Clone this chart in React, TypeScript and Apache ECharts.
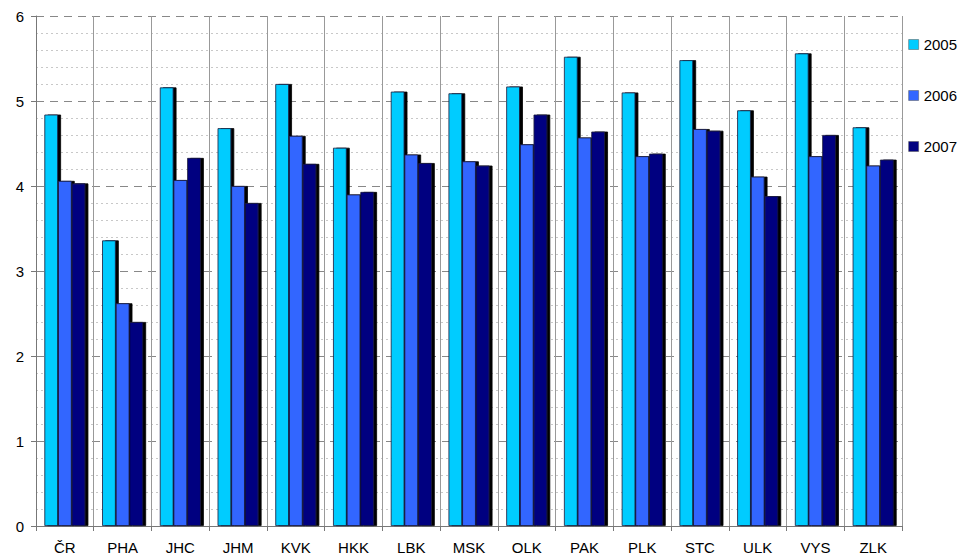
import React, { useEffect, useRef } from "react";
import * as echarts from "echarts";

const categories = ["ČR", "PHA", "JHC", "JHM", "KVK", "HKK", "LBK", "MSK", "OLK", "PAK", "PLK", "STC", "ULK", "VYS", "ZLK"];
const years = ["2005", "2006", "2007"];
const v2005 = [4.84, 3.36, 5.16, 4.68, 5.2, 4.45, 5.11, 5.09, 5.17, 5.52, 5.1, 5.48, 4.89, 5.56, 4.69];
const v2006 = [4.06, 2.62, 4.07, 4.0, 4.59, 3.9, 4.37, 4.29, 4.49, 4.57, 4.35, 4.67, 4.11, 4.35, 4.24];
const v2007 = [4.03, 2.4, 4.33, 3.8, 4.26, 3.93, 4.27, 4.24, 4.84, 4.64, 4.38, 4.65, 3.88, 4.6, 4.31];
const colors = ["#00CCFF", "#3366FF", "#000080"];

const FONT = "'Liberation Sans', Arial, sans-serif";

export default function App() {
  const ref = useRef<HTMLDivElement>(null);
  useEffect(() => {
    if (!ref.current) return;
    const chart = echarts.init(ref.current, null, { renderer: "svg" });
    const seriesData = [v2005, v2006, v2007];
    chart.setOption({
      animation: false,
      backgroundColor: "#ffffff",
      textStyle: { fontFamily: FONT },
      grid: { left: 36, right: 63, top: 16, bottom: 31 },
      legend: {
        orient: "vertical",
        right: 3,
        top: 32,
        itemWidth: 10,
        itemHeight: 10,
        itemGap: 36,
        icon: "rect",
        textStyle: { fontFamily: FONT, fontSize: 15, color: "#000" },
        itemStyle: { borderColor: "#555", borderWidth: 0.5 },
        data: years,
      },
      xAxis: {
        type: "category",
        data: categories,
        axisLine: { show: true, lineStyle: { color: "#777", width: 1 } },
        axisTick: { show: true, length: 5, lineStyle: { color: "#777" } },
        axisLabel: { fontFamily: FONT, fontSize: 15, color: "#000", margin: 14 },
        splitLine: { show: true, lineStyle: { color: "#999", width: 1 } },
      },
      yAxis: {
        type: "value",
        min: 0,
        max: 6,
        interval: 1,
        axisLine: { show: true, lineStyle: { color: "#777", width: 1 } },
        axisTick: { show: true, length: 5, lineStyle: { color: "#777" } },
        axisLabel: { fontFamily: FONT, fontSize: 15, color: "#000", margin: 12 },
        splitLine: { show: true, lineStyle: { color: "#888", type: [8, 6], width: 1 } },
        minorTick: { show: false, splitNumber: 5 },
        minorSplitLine: { show: true, lineStyle: { color: "#c8c8c8", type: [2, 3], width: 1 } },
      },
      series: years.map((y, i) => ({
        name: y,
        type: "bar",
        data: seriesData[i],
        barGap: "0%",
        barCategoryGap: "29%",
        itemStyle: {
          color: colors[i],
          borderColor: "#1a1a3a",
          borderWidth: 0.8,
          shadowColor: "#000",
          shadowBlur: 0,
          shadowOffsetX: 3,
          shadowOffsetY: 0,
        },
      })),
    });
    return () => chart.dispose();
  }, []);
  return <div ref={ref} style={{ width: 965, height: 557, position: "absolute", left: 0, top: 0 }} />;
}
